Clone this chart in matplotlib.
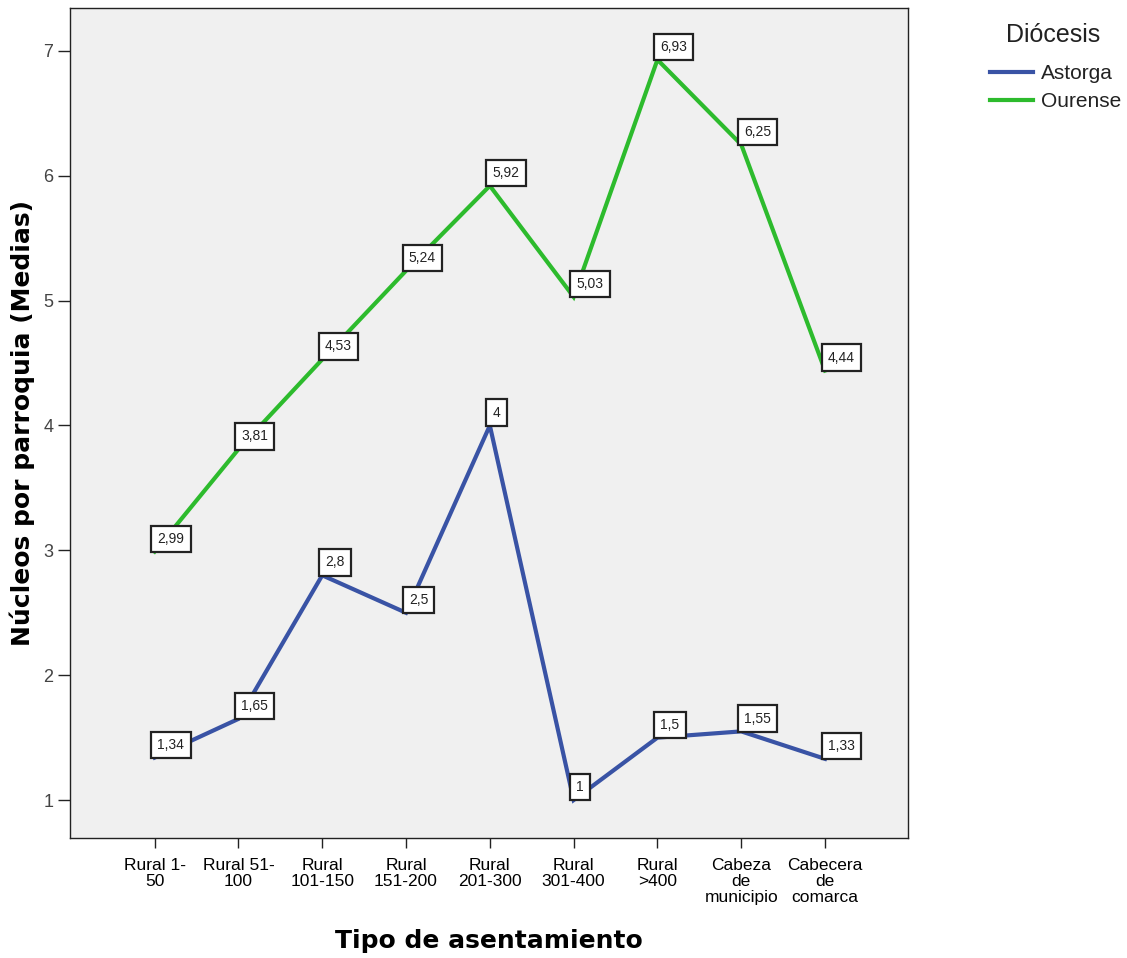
import matplotlib
matplotlib.use("Agg")
import matplotlib.pyplot as plt

categories = ["Rural 1-\n50", "Rural 51-\n100", "Rural\n101-150", "Rural\n151-200",
              "Rural\n201-300", "Rural\n301-400", "Rural\n>400", "Cabeza\nde\nmunicipio",
              "Cabecera\nde\ncomarca"]
astorga = [1.34, 1.65, 2.8, 2.5, 4, 1, 1.5, 1.55, 1.33]
ourense = [2.99, 3.81, 4.53, 5.24, 5.92, 5.03, 6.93, 6.25, 4.44]
astorga_lbl = ["1,34", "1,65", "2,8", "2,5", "4", "1", "1,5", "1,55", "1,33"]
ourense_lbl = ["2,99", "3,81", "4,53", "5,24", "5,92", "5,03", "6,93", "6,25", "4,44"]
yticks = [1, 2, 3, 4, 5, 6, 7]

plt.rcParams['font.family'] = ['Liberation Sans', 'DejaVu Sans']

fig = plt.figure(figsize=(11.27, 9.58), dpi=100)
ax = fig.add_axes([70/1127, 1-838/958, (908-70)/1127, (838-8)/958])
ax.set_facecolor("#F0F0F0")

x = list(range(len(categories)))
c_ast = "#3953A5"
c_our = "#2DBB2D"
ax.plot(x, astorga, color=c_ast, lw=3, label="Astorga", solid_joinstyle='miter')
ax.plot(x, ourense, color=c_our, lw=3, label="Ourense", solid_joinstyle='miter')

pad = 0.45
fs = 10
box = dict(boxstyle=f"square,pad={pad}", fc="white", ec="#222222", lw=1.6)
offx = pad * fs - 2.5
offy = pad * fs - 0.3
for xi, v, t in zip(x, astorga, astorga_lbl):
    ax.annotate(t, (xi, v), xytext=(offx, offy), textcoords="offset points",
                ha="left", va="bottom", fontsize=fs, bbox=box, color="#222222", zorder=5)
for xi, v, t in zip(x, ourense, ourense_lbl):
    ax.annotate(t, (xi, v), xytext=(offx, offy), textcoords="offset points",
                ha="left", va="bottom", fontsize=fs, bbox=box, color="#222222", zorder=5)

ax.set_xlim(-1.01, 8.99)
ax.set_ylim(0.696, 7.344)
ax.set_xticks(x)
ax.set_xticklabels(categories, fontsize=12.5, linespacing=1.08)
ax.set_yticks(yticks)
ax.set_yticklabels([str(t) for t in yticks], fontsize=13, color="#444444")
ax.tick_params(axis="both", direction="out", width=1, color="#222222")
ax.tick_params(axis="x", length=7.5, pad=7)
ax.tick_params(axis="y", length=9, pad=3)
for s in ax.spines.values():
    s.set_color("#222222")
    s.set_linewidth(1)

ax.set_xlabel("Tipo de asentamiento", fontsize=18, fontweight="bold", labelpad=17,
              family="DejaVu Sans")
ax.set_ylabel("Núcleos por parroquia (Medias)", fontsize=18, fontweight="bold", labelpad=6,
              family="DejaVu Sans")

lfs = 15
fig.text(1053/1127, 1-35/958, "Diócesis", ha="center", va="center", fontsize=18,
         color="#222222")
leg = fig.legend(loc="upper left", bbox_to_anchor=(990/1127, 1-64/958), frameon=False,
                 fontsize=lfs, handlelength=2.07, handletextpad=0.38, labelspacing=0.45,
                 borderpad=0, borderaxespad=0)
for t in leg.get_texts():
    t.set_color("#222222")

fig.savefig("out.png", dpi=100, facecolor="white")
